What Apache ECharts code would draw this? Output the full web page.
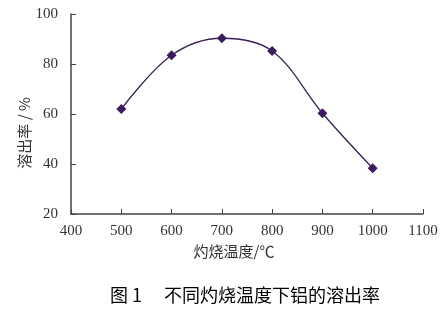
<!DOCTYPE html>
<html><head><meta charset="utf-8">
<script src="https://cdn.jsdelivr.net/npm/echarts@6/dist/echarts.min.js"></script>
<style>html,body{margin:0;padding:0;background:#fff}#c{width:443px;height:309px}</style>
</head><body><div id="c"></div>
<script>
var temps = [500, 600, 700, 800, 900, 1000];
var rates = [62, 83.5, 90.3, 85.2, 60.3, 38.3];
var xTitle = '灼烧温度/℃';
var yTitle = '溶出率 / %';
var caption = '图 1　 不同灼烧温度下铝的溶出率';

var chart = echarts.init(document.getElementById('c'), null, {renderer:'canvas'});
var axisCol = '#444';
var serif = '"Times New Roman", "Liberation Serif", serif';
chart.setOption({
  animation:false,
  backgroundColor:'#fff',
  title:{text:caption,left:105,top:281,
    textStyle:{fontFamily:'Noto Sans CJK SC',fontSize:18,fontWeight:'normal',color:'#000'}},
  graphic:[{type:'text',x:24,y:133,rotation:Math.PI/2,
    style:{text:yTitle,fontFamily:'Noto Sans CJK SC',fontSize:15,fill:'#333',
      textAlign:'center',textVerticalAlign:'middle'}}],
  grid:{left:71,right:20,top:14,bottom:95},
  xAxis:{type:'value',min:400,max:1100,interval:100,
    name:xTitle,nameLocation:'middle',nameGap:25,
    nameTextStyle:{fontFamily:'Noto Sans CJK SC',fontSize:15,color:'#333',padding:[0,26,0,0]},
    axisLine:{show:true,lineStyle:{color:axisCol,width:1.5}},
    axisTick:{show:true,inside:true,length:5,lineStyle:{color:axisCol,width:1}},
    axisLabel:{fontFamily:serif,fontSize:15,color:'#333',margin:10,
      formatter:function(v){return String(v);}},
    splitLine:{show:false}},
  yAxis:{type:'value',min:20,max:100,interval:20,
    axisLine:{show:true,lineStyle:{color:axisCol,width:1.5}},
    axisTick:{show:true,inside:true,length:5,lineStyle:{color:axisCol,width:1}},
    axisLabel:{fontFamily:serif,fontSize:15,color:'#333',margin:13,
      formatter:function(v){return String(v);}},
    splitLine:{show:false}},
  series:[{type:'line',data:temps.map(function(t,i){return [t,rates[i]];}),
    smooth:0.35,symbol:'diamond',symbolSize:10,
    lineStyle:{color:'#3b2058',width:1.3},
    itemStyle:{color:'#3b1d5e'}}]
});
</script></body></html>
